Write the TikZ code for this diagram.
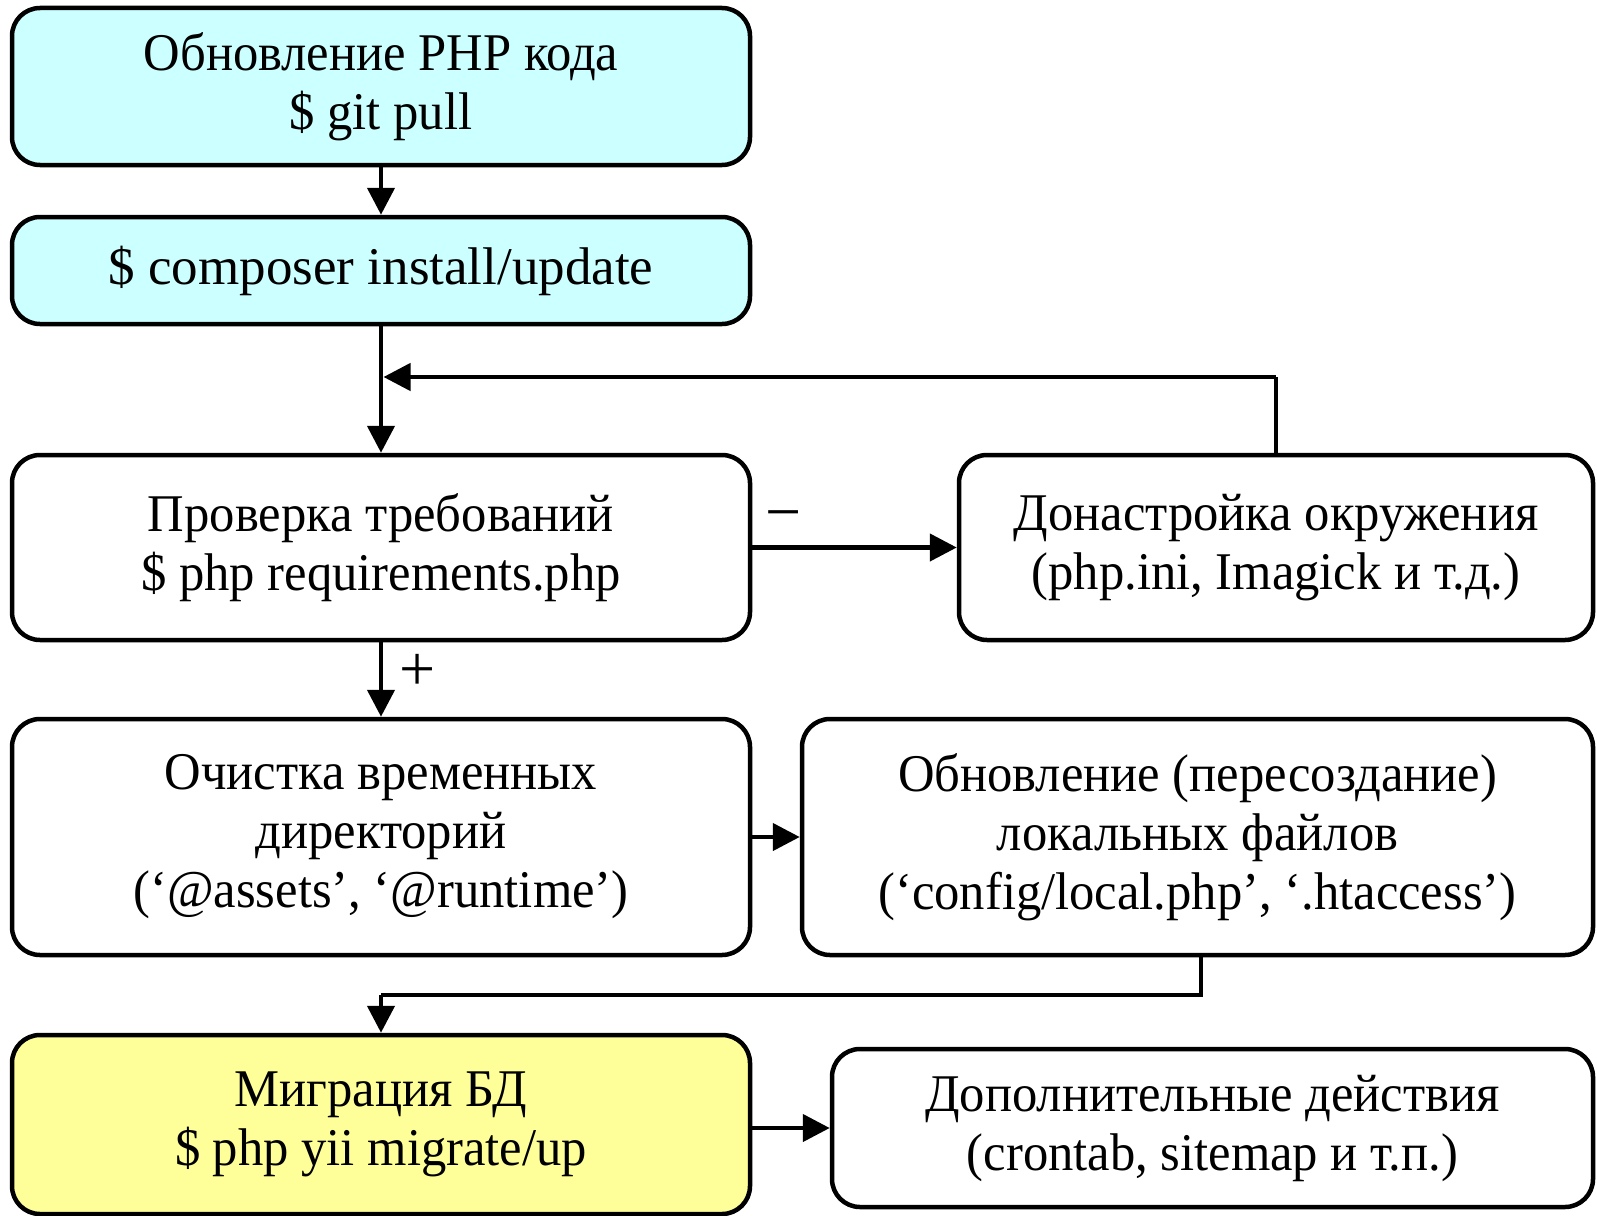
\documentclass[tikz,border=0pt]{standalone}
\usepackage{fontspec}
\setmainfont{Liberation Serif}[FakeStretch=0.955]
\newfontfamily\plainserif{Liberation Serif}
\usetikzlibrary{arrows.meta}
\definecolor{cyanfill}{HTML}{CCFFFF}
\definecolor{yellowfill}{HTML}{FFFF99}
\tikzset{
  box/.style={draw=black, line width=4.5pt, rounded corners=28pt, fill=white,
    align=center, inner sep=0pt, font=\fontsize{53pt}{59pt}\selectfont},
  conn/.style={line width=4.5pt, -{Triangle[length=27pt,width=27pt]}},
  plainconn/.style={line width=4.5pt},
  lbl/.style={font=\plainserif\fontsize{64pt}{64pt}\selectfont, inner sep=0pt, anchor=base}
}
\begin{document}
\begin{tikzpicture}[x=1pt,y=-1pt]
\useasboundingbox (0,0) rectangle (1597,1215);
\node[box, fill=cyanfill, minimum width=738pt, minimum height=157pt] (b1) at (381,86.5)
  {Обновление PHP кода\\\$ git pull};
\node[box, fill=cyanfill, minimum width=738pt, minimum height=107pt,
  font=\plainserif\fontsize{53pt}{59pt}\selectfont] (b2) at (381,270.5)
  {\$ composer install/update};
\node[box, minimum width=738pt, minimum height=185pt] (b3) at (381,547.5)
  {Проверка требований\\\$ php requirements.php};
\node[box, minimum width=634pt, minimum height=185pt] (b4) at (1276,547.5)
  {Донастройка окружения\\(php.ini, Imagick и т.д.)};
\node[box, minimum width=738pt, minimum height=236pt] (b5) at (381,837)
  {Очистка временных\\директорий\\(‘@assets’, ‘@runtime’)};
\node[box, minimum width=791pt, minimum height=236pt] (b6) at (1197.5,837)
  {Обновление (пересоздание)\\локальных файлов\\(‘config/local.php’, ‘.htaccess’)};
\node[box, fill=yellowfill, minimum width=738pt, minimum height=179pt] (b7) at (381,1124.5)
  {Миграция БД\\\$ php yii migrate/up};
\node[box, minimum width=761pt, minimum height=158pt] (b8) at (1212.5,1128)
  {Дополнительные действия\\(crontab, sitemap и т.п.)};

\coordinate (loopR) at (1276,377);
\coordinate (loopL) at (383.5,377);
\coordinate (turnR) at (1201,995);
\coordinate (turnL) at (381,995);

\draw[conn] (b1.south) -- (b2.north);
\draw[conn] (b2.south) -- (b3.north);
\draw[plainconn] (b4.north) -- (loopR);
\draw[conn] (loopR) -- (loopL);
\draw[conn] (b3.east) -- (b4.west);
\draw[conn] (b3.south) -- (b5.north);
\draw[conn] (b5.east) -- (b6.west);
\draw[plainconn] ([xshift=3.5pt]b6.south) -- (turnR) -- (turnL);
\draw[conn] (turnL) -- (b7.north);
\draw[conn] (b7.east |- b8.west) -- (b8.west);

\node[lbl] (minus) at (784,533) {−};
\node[lbl] (plus) at (418,690) {+};
\end{tikzpicture}
\end{document}
